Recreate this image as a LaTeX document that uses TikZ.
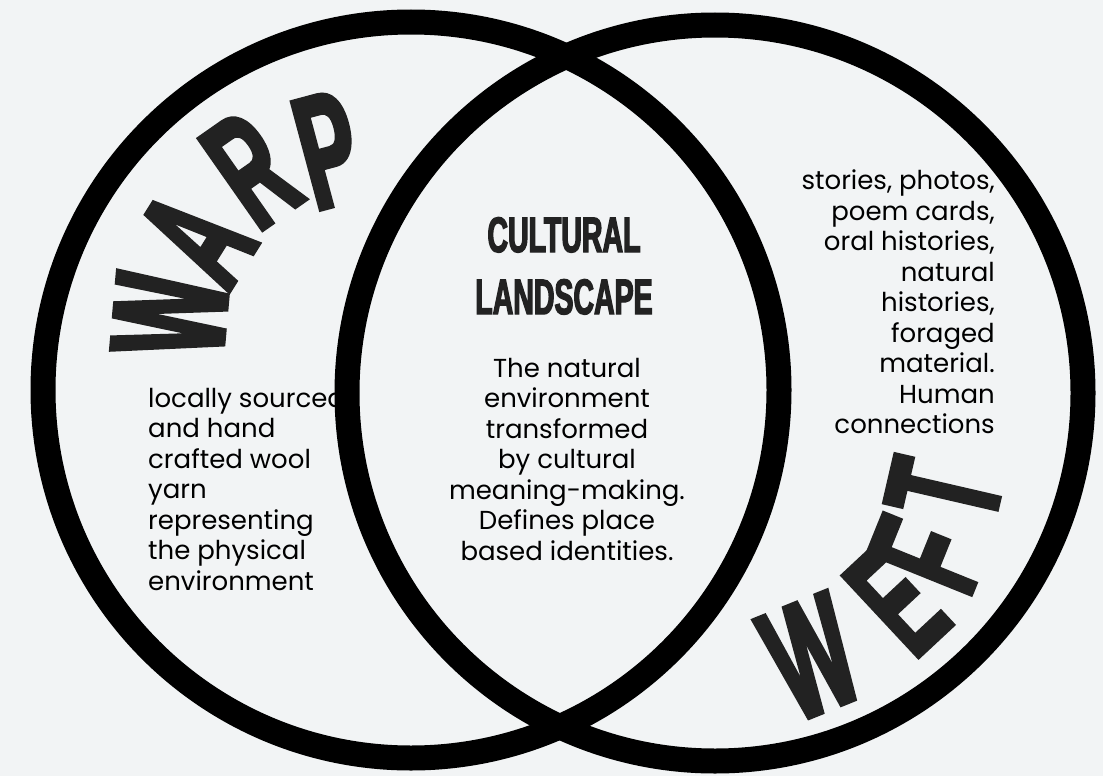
\documentclass[tikz,border=0pt]{standalone}
\usepackage{fontspec}
\setmainfont{Poppins}
\newfontfamily\stampfont[FakeStretch=0.52, FakeBold=2.5, UprightFont=* Bold]{Liberation Sans}
\newfontfamily\headfont[FakeStretch=0.57, FakeBold=2.5, UprightFont=* Bold]{Liberation Sans}
\usetikzlibrary{positioning}

\definecolor{paper}{HTML}{F2F4F5}
\definecolor{ink}{HTML}{222222}

\begin{document}
\begin{tikzpicture}[x=1pt, y=-1pt]
    % Styles
    \tikzstyle{ring} = [circle, draw=black, line width=25pt, minimum size=736pt, inner sep=0pt]
    \tikzstyle{stamp} = [inner sep=0pt, text=ink, font=\stampfont\fontsize{162}{162}\selectfont]
    \tikzstyle{heading} = [inner sep=0pt, align=center, text=ink, font=\headfont\fontsize{50}{62}\selectfont]
    \tikzstyle{body} = [inner sep=0pt, text=black, font=\fontsize{26}{30.5}\selectfont]

    % Paper
    \fill[paper] (0,0) rectangle (1103,776);
    \useasboundingbox (0,0) rectangle (1103,776);

    % Texts
    \node[heading, anchor=north] (title) at (564,217) {CULTURAL\\LANDSCAPE};
    \node[body, align=center, below=43pt of title, xshift=3pt] (middle) {The natural\\environment\\transformed\\by cultural\\meaning-making.\\Defines place\\based identities.};
    \node[body, align=left, anchor=north west] (warptext) at (148,388) {locally sourced\\and hand\\crafted wool\\yarn\\representing\\the physical\\environment};
    \node[body, align=right, anchor=north east] (wefttext) at (995,170) {stories, photos,\\poem cards,\\oral histories,\\natural\\histories,\\foraged\\material.\\Human\\connections};

    % Letters on the arcs
    \foreach \ch/\px/\py/\rot in {W/170/315/85, A/197/238/58, R/251/170/35, P/328/150/15}
        \node[stamp, rotate=\rot] (warp\ch) at (\px,\py) {\ch};
    \foreach \ch/\px/\py/\rot in {W/811/657/22, E/897/601/43, F/927/555/68, T/944/491/77}
        \node[stamp, rotate=\rot] (weft\ch) at (\px,\py) {\ch};

    % Circles
    \node[ring] (warp) at (411,390) {};
    \node[ring] (weft) at (715,393) {};
\end{tikzpicture}
\end{document}
